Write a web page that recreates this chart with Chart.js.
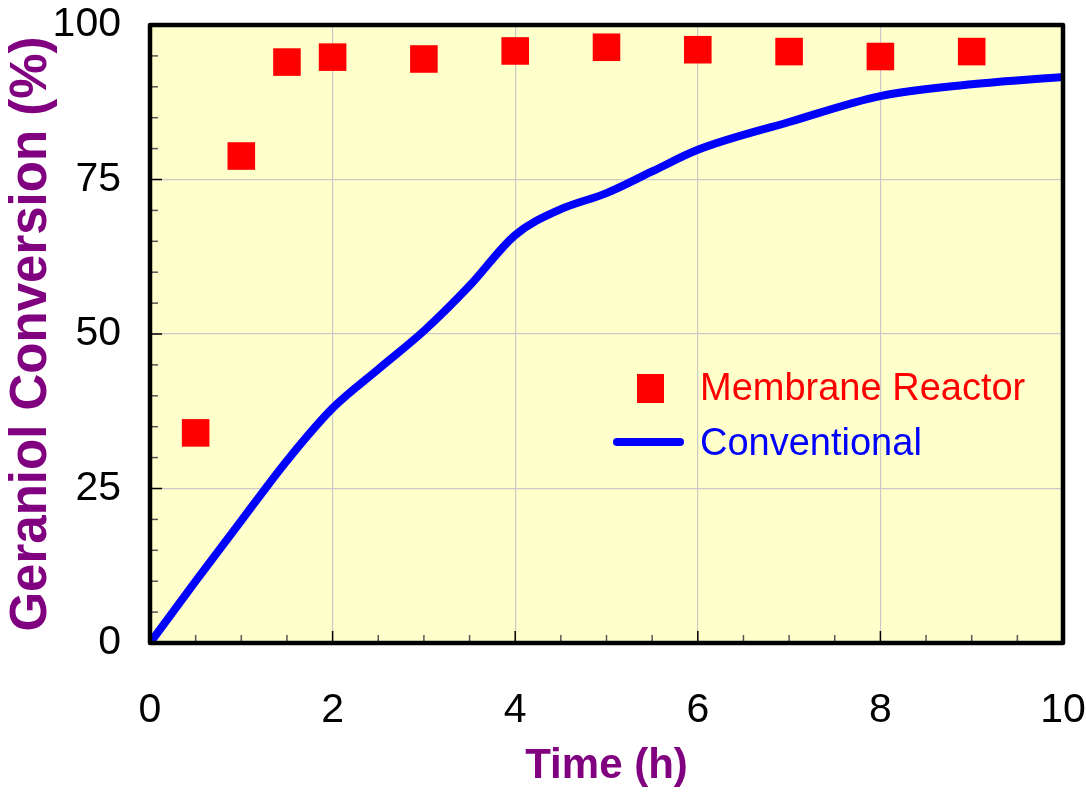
<!DOCTYPE html>
<html>
<head>
<meta charset="utf-8">
<script src="https://cdn.jsdelivr.net/npm/chart.js@4.4.0/dist/chart.umd.min.js"></script>
<style>
  html, body { margin: 0; padding: 0; background: #fff; }
</style>
</head>
<body>
<canvas id="chart" width="1086" height="792"></canvas>
<script>
// ============ DATA ============

const memTime = [0.5, 1, 1.5, 2, 3, 4, 5, 6, 7, 8, 9];
const memValue = [34, 78.8, 94, 94.8, 94.5, 95.8, 96.4, 96.0, 95.7, 94.9, 95.7];

const convTime = [0, 0.5, 1, 1.5, 2, 2.5, 3, 3.5, 4, 4.5, 5, 5.5, 6, 7, 8, 9, 10];
const convValue = [0, 10, 19.8, 29.5, 38, 44.3, 50.5, 57.8, 66, 70.2, 72.8, 76.3, 79.8, 84.3, 88.5, 90.4, 91.6];

const xMajorTicks = [0, 2, 4, 6, 8, 10];
const yMajorTicks = [0, 25, 50, 75, 100];

const FONT = '"Liberation Sans", Arial, sans-serif';
const PURPLE = '#800080';

// ============ PLUGINS ============

// yellow plot background, inward ticks, frame and in-plot legend
const plotFrame = {
  id: 'plotFrame',
  beforeDraw(chart) {
    const { ctx, chartArea: a } = chart;
    ctx.save();
    ctx.fillStyle = '#FFFFCC';
    ctx.fillRect(a.left, a.top, a.right - a.left, a.bottom - a.top);
    ctx.restore();
  },
  afterDraw(chart) {
    const { ctx, chartArea: a, scales } = chart;
    ctx.save();

    // inward tick marks
    ctx.lineWidth = 1.5;
    scales.x.ticks.forEach(t => {
      if (t.value <= 0 || t.value >= 10) return;
      const px = scales.x.getPixelForValue(t.value);
      const major = xMajorTicks.includes(t.value);
      ctx.strokeStyle = major ? '#000' : '#555';
      ctx.beginPath();
      ctx.moveTo(px, a.bottom);
      ctx.lineTo(px, a.bottom - (major ? 12 : 8));
      ctx.stroke();
    });
    scales.y.ticks.forEach(t => {
      if (t.value <= 0 || t.value >= 100) return;
      const py = scales.y.getPixelForValue(t.value);
      const major = yMajorTicks.includes(t.value);
      ctx.strokeStyle = major ? '#000' : '#555';
      ctx.beginPath();
      ctx.moveTo(a.left, py);
      ctx.lineTo(a.left + (major ? 12 : 8), py);
      ctx.stroke();
    });

    // frame
    ctx.strokeStyle = '#000';
    ctx.lineWidth = 4.5;
    ctx.lineJoin = 'round';
    ctx.strokeRect(a.left, a.top, a.right - a.left, a.bottom - a.top);

    // legend
    const mem = chart.data.datasets[0];
    const conv = chart.data.datasets[1];
    const lx = a.left + 467;
    const ly = a.top + 363;
    ctx.fillStyle = mem.backgroundColor;
    ctx.fillRect(lx + 20, ly - 14, 27, 29);
    ctx.strokeStyle = conv.borderColor;
    ctx.lineWidth = 8;
    ctx.lineCap = 'round';
    ctx.beginPath();
    ctx.moveTo(lx, ly + 54);
    ctx.lineTo(lx + 63, ly + 54);
    ctx.stroke();

    ctx.font = '38px ' + FONT;
    ctx.textBaseline = 'middle';
    ctx.textAlign = 'left';
    ctx.fillStyle = mem.backgroundColor;
    ctx.fillText(mem.label, lx + 83, ly + 2);
    ctx.fillStyle = conv.borderColor;
    ctx.fillText(conv.label, lx + 83, ly + 57);

    ctx.restore();
  }
};

// ============ CHART ============

const ctx = document.getElementById('chart').getContext('2d');

new Chart(ctx, {
  type: 'scatter',
  data: {
    datasets: [{
      label: 'Membrane Reactor',
      data: memTime.map((t, i) => ({ x: t, y: memValue[i] })),
      backgroundColor: '#FF0000',
      borderColor: '#FF0000',
      borderWidth: 0,
      pointStyle: 'rect',
      pointRadius: 19.5,
      showLine: false,
      order: 1
    }, {
      label: 'Conventional',
      data: convTime.map((t, i) => ({ x: t, y: convValue[i] })),
      borderColor: '#0000FF',
      backgroundColor: '#0000FF',
      borderWidth: 8,
      borderCapStyle: 'round',
      borderJoinStyle: 'round',
      pointRadius: 0,
      showLine: true,
      cubicInterpolationMode: 'monotone',
      order: 2
    }]
  },
  options: {
    responsive: false,
    animation: false,
    layout: {
      padding: 0
    },
    plugins: {
      legend: { display: false },
      tooltip: { enabled: false }
    },
    scales: {
      x: {
        type: 'linear',
        min: 0,
        max: 10,
        afterFit: (scale) => {
          scale.height = 149;
          scale.paddingLeft = 0;
          scale.paddingRight = 23;
        },
        border: { display: false },
        grid: {
          drawTicks: false,
          lineWidth: 1.2,
          color: (c) => (c.tick && c.tick.value % 2 === 0 && c.tick.value > 0 && c.tick.value < 10) ? '#C8C8C8' : 'rgba(0,0,0,0)'
        },
        ticks: {
          stepSize: 0.5,
          autoSkip: false,
          maxRotation: 0,
          padding: 43,
          color: '#000',
          font: { family: FONT, size: 41 },
          callback: (v) => xMajorTicks.includes(v) ? String(v) : ''
        },
        title: {
          display: true,
          text: 'Time (h)',
          color: PURPLE,
          font: { family: FONT, size: 42, weight: 'bold' },
          padding: { top: 0, bottom: 0 }
        }
      },
      y: {
        type: 'linear',
        min: 0,
        max: 100,
        afterFit: (scale) => {
          scale.width = 150;
          scale.paddingTop = 25;
          scale.paddingBottom = 0;
        },
        border: { display: false },
        grid: {
          drawTicks: false,
          lineWidth: 1.2,
          color: (c) => (c.tick && c.tick.value % 25 === 0 && c.tick.value > 0 && c.tick.value < 100) ? '#C8C8C8' : 'rgba(0,0,0,0)'
        },
        ticks: {
          stepSize: 5,
          autoSkip: false,
          padding: 29,
          color: '#000',
          font: { family: FONT, size: 41 },
          callback: (v) => yMajorTicks.includes(v) ? String(v) : ''
        },
        title: {
          display: true,
          text: 'Geraniol Conversion (%)',
          color: PURPLE,
          font: { family: FONT, size: 51, weight: 'bold' },
          padding: { top: 1, bottom: 0 }
        }
      }
    }
  },
  plugins: [plotFrame]
});
</script>
</body>
</html>
